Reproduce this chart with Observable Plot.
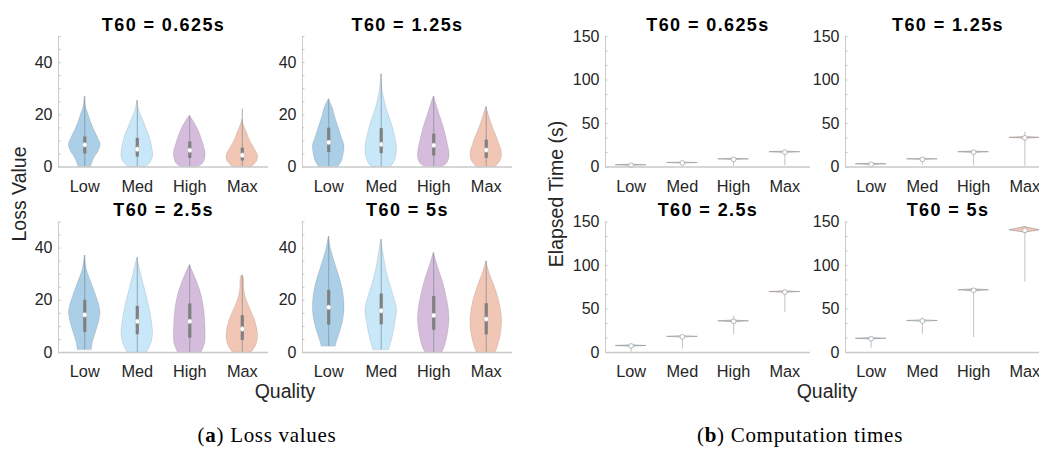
<!DOCTYPE html>
<html>
<head>
<meta charset="utf-8">
<script src="https://cdn.jsdelivr.net/npm/d3@7"></script>
<script src="https://cdn.jsdelivr.net/npm/@observablehq/plot@0.6"></script>
<style>
html, body { margin: 0; padding: 0; background: #fff; overflow: hidden; }
#wrap { position: relative; width: 1039px; height: 450px; overflow: hidden; font-family: "Liberation Sans", Arial, sans-serif; }
.panel { position: absolute; top: 0; }
.panel svg { max-width: none !important; display: block; }
.panel g[aria-label="text"] text { letter-spacing: 1.4px; }
.lab { position: absolute; font-size: 19.5px; line-height: 1; color: #262626; white-space: nowrap; }
.ylab { transform: translate(-50%, -50%) rotate(-90deg); }
.xlab { transform: translateX(-50%); }
.cap { position: absolute; font-family: "Liberation Serif", "Times New Roman", serif; font-size: 21px; letter-spacing: 0.7px; line-height: 1; color: #000; white-space: nowrap; transform: translateX(-50%); }
</style>
</head>
<body>
<div id="wrap">
  <div id="pa" class="panel" style="left:0px; width:520px"></div>
  <div id="pb" class="panel" style="left:520px; width:530px"></div>
  <div class="lab ylab" style="left:20px; top:194px">Loss Value</div>
  <div class="lab ylab" style="left:557px; top:194px">Elapsed Time (s)</div>
  <div class="lab xlab" style="left:285px; top:382px">Quality</div>
  <div class="lab xlab" style="left:827px; top:382px">Quality</div>
  <div class="cap" style="left:267px; top:425px">(<b>a</b>) Loss values</div>
  <div class="cap" style="left:800px; top:425px">(<b>b</b>) Computation times</div>
</div>
<script>
// ---------------- data ----------------
const t60Labels = ["0.625", "1.25", "2.5", "5"];
const qualities = ["Low", "Med", "High", "Max"];
const qualityColors = ["#abcfe7", "#c8e8f9", "#d5bcdc", "#f2c6b4"];
const lossTicks = [0, 20, 40];
const lossMinorTicks = [0, 5, 10, 15, 20, 25, 30, 35, 40, 45, 50];
const timeTicks = [0, 50, 100, 150];
const timeMinorTicks = [0, 16.7, 33.3, 50, 66.7, 83.3, 100, 116.7, 133.3, 150];

// violin outlines of the loss values: [loss, relative width], bottom to top, per quality
const lossViolins_0625 = [
  [[0, 0.38], [1, 0.45], [3.6, 0.63], [6.2, 0.9], [8.7, 1], [11.3, 0.83], [15, 0.54], [18, 0.35], [20.3, 0.23], [22, 0.12], [24, 0.05], [27, 0]],
  [[0, 0.6], [1.7, 0.85], [4.2, 1], [7.4, 0.95], [11.3, 0.8], [15, 0.56], [19, 0.3], [21.5, 0.12], [23.5, 0.05], [25.4, 0]],
  [[0, 0.55], [1.3, 0.85], [4.2, 1], [6.2, 0.98], [10, 0.8], [13.8, 0.57], [17.7, 0.22], [19.6, 0]],
  [[0, 0.6], [2.3, 0.95], [4.2, 1], [6.8, 0.8], [10, 0.5], [13.8, 0.25], [16, 0.1], [18.3, 0]]
];
const lossViolins_125 = [
  [[0, 0.6], [1.7, 0.8], [4.9, 0.95], [8.1, 1], [11.3, 0.83], [15.1, 0.63], [19, 0.42], [22.8, 0.25], [26, 0]],
  [[0, 0.55], [1, 0.75], [4.2, 0.96], [7.4, 1], [11.3, 0.89], [15.1, 0.74], [19, 0.53], [22.8, 0.32], [26.7, 0.17], [30, 0.07], [33, 0.02], [35.6, 0]],
  [[0, 0.55], [1.3, 0.85], [3.8, 1], [6.2, 0.98], [10, 0.85], [15.1, 0.64], [20.3, 0.36], [24, 0.17], [27, 0]],
  [[0, 0.6], [2.3, 0.91], [4.9, 1], [7.4, 0.91], [11.3, 0.68], [15.1, 0.42], [19, 0.21], [23, 0]]
];
const lossViolins_25 = [
  [[1, 0.45], [3.6, 0.51], [7.4, 0.7], [11.3, 0.89], [15.1, 1], [17.7, 0.94], [21.5, 0.74], [26.7, 0.43], [31.8, 0.13], [37.2, 0]],
  [[0, 0.6], [0.4, 0.65], [3.6, 0.9], [7.4, 1], [11.3, 0.94], [16.4, 0.8], [21.5, 0.6], [26.7, 0.38], [31.8, 0.17], [36.3, 0]],
  [[0, 0.75], [3.6, 0.98], [8.7, 1], [13.8, 0.96], [19, 0.85], [24.1, 0.64], [29.2, 0.32], [33.5, 0]],
  [[0, 0.6], [2.9, 0.9], [6.2, 1], [8.7, 0.96], [12.6, 0.79], [16.4, 0.53], [20.3, 0.26], [24.1, 0.13], [28, 0.11], [29.5, 0.04]]
];
const lossViolins_5 = [
  [[2.3, 0.45], [4.2, 0.53], [7.4, 0.7], [11.3, 0.89], [16.4, 1], [21.5, 0.96], [26.7, 0.79], [33, 0.47], [39.5, 0.15], [44.4, 0]],
  [[1, 0.5], [1.7, 0.53], [6.2, 0.74], [11.3, 0.89], [16.4, 1], [21.5, 0.8], [26.7, 0.53], [31.8, 0.32], [38.2, 0.13], [43.3, 0]],
  [[0, 0.55], [2.9, 0.74], [7.4, 0.91], [12.6, 1], [16.4, 0.96], [21.5, 0.81], [26.7, 0.6], [33, 0.26], [38.2, 0]],
  [[0, 0.6], [2.3, 0.74], [6.2, 0.91], [11.3, 1], [15.1, 0.96], [20.3, 0.8], [25.4, 0.53], [30.5, 0.21], [35, 0]]
];
// loss summaries per T60 (rows) and quality (columns)
const lossMedian = [[8.5, 6.8, 6.4, 4.5], [9.4, 8.7, 8.3, 6.5], [14.4, 11.9, 11.9, 9], [17.3, 16, 14.2, 12.8]];
const lossQ1 = [[5, 3.8, 3.3, 2.3], [5.5, 5.1, 4.2, 3.3], [7.7, 6.8, 5.5, 4.6], [10.5, 10.6, 8.5, 6.8]];
const lossQ3 = [[11.5, 11, 9.6, 7.2], [14.9, 14.7, 12.6, 10.3], [20, 17.7, 18.6, 14.1], [23.8, 22.4, 21.5, 18.7]];
const lossMin = [[0, 0, 0, 0], [0, 0, 0, 0], [1, 0, 0, 0], [2.3, 1, 0, 0]];
const lossMax = [[27, 25.4, 19.6, 22.2], [26, 35.6, 27, 23], [37.2, 36.3, 33.5, 29.5], [44.4, 43.3, 38.2, 35]];

// computation times (s) per T60 (rows) and quality (columns)
const timeMedian = [[2, 4.6, 8.8, 17], [3.1, 8.8, 17, 33.5], [7.5, 18, 35.8, 69.5], [15.8, 36.2, 71.5, 140.4]];
const timeMin = [[0.5, 3.5, 1, 1.5], [1, 2, 1.5, 1], [0.5, 4, 20.5, 46], [5, 21, 17.3, 81]];
const timeMax = [[2.5, 5.5, 9.5, 18], [4, 9.5, 18, 40], [8, 18.5, 41.6, 70.5], [16.5, 39.7, 72, 144]];
const timeShapeLo = [[1.3, 3.9, 8, 16.2], [2.3, 8, 16.2, 32.5], [6.7, 17.2, 34.8, 68.6], [15, 35.3, 70.3, 137.8]];
const timeShapeHi = [[2.6, 5.2, 9.5, 17.7], [3.8, 9.5, 17.8, 34.5], [8.2, 18.8, 36.8, 70.4], [16.6, 37, 72.6, 144.2]];

// ---------------- build tables ----------------
const HALF = 0.3;               // widest violin half-width, in category units
const xDomain = [0.5, 4.5];
const facetOf = k => ({fx: k % 2, fy: Math.floor(k / 2)});
const titles = t60Labels.map((t, k) => ({title: `T60 = ${t}s`, ...facetOf(k)}));

const lossOutline = [];
[lossViolins_0625, lossViolins_125, lossViolins_25, lossViolins_5].forEach((set, k) =>
  set.forEach((prof, q) => prof.forEach(([v, w]) =>
    lossOutline.push({...facetOf(k), q, cat: qualities[q], key: `${k}-${q}`, v, w}))));
const lossStats = [];
t60Labels.forEach((t, k) => qualities.forEach((c, q) => lossStats.push({
  ...facetOf(k), q, cat: c,
  med: lossMedian[k][q], q1: lossQ1[k][q], q3: lossQ3[k][q], lo: lossMin[k][q], hi: lossMax[k][q]
})));

const timeOutline = [];
const timeStats = [];
t60Labels.forEach((t, k) => qualities.forEach((c, q) => {
  const base = {...facetOf(k), q, cat: c, key: `${k}-${q}`};
  timeOutline.push({...base, v: timeShapeLo[k][q], w: 0});
  timeOutline.push({...base, v: timeMedian[k][q], w: 1});
  timeOutline.push({...base, v: timeShapeHi[k][q], w: 0});
  timeStats.push({...base, med: timeMedian[k][q], lo: timeMin[k][q], hi: timeMax[k][q]});
}));

// ---------------- common pieces ----------------
const xPos = d => d.q + 1;
const common = (yTicks, yMinor) => [
  Plot.ruleX([xDomain[0]], {stroke: "#cdcdcd", strokeWidth: 1}),
  Plot.axisY({ticks: yMinor, tickSize: 2.5, dx: 2.5, fill: "none", stroke: "#c4c4c4", facetAnchor: null, label: null}),
  Plot.axisY({ticks: yTicks, tickSize: 0, tickPadding: 6, fontSize: 16, fill: "#262626", facetAnchor: null, label: null}),
  Plot.axisX({ticks: [1, 2, 3, 4], tickFormat: i => qualities[i - 1], tickSize: 0, tickPadding: 13, fontSize: 16.3, fill: "#262626", facetAnchor: null, label: null}),
  Plot.text(titles, {fx: "fx", fy: "fy", text: "title", frameAnchor: "top", lineAnchor: "bottom", dy: -6, fontSize: 18, fontWeight: "bold", fill: "#000"})
];
const baseline = Plot.ruleY([0], {stroke: "#c9c9c9", strokeWidth: 1.6});
const style = {fontFamily: "'Liberation Sans', Arial, sans-serif", fontSize: "16px", color: "#262626", background: "transparent"};

const plotA = Plot.plot({
  width: 520, height: 410,
  marginLeft: 58, marginRight: 8, marginTop: 36, marginBottom: 58,
  fx: {domain: [0, 1], paddingInner: 0.139, paddingOuter: 0, axis: null, round: false},
  fy: {domain: [0, 1], paddingInner: 0.2965, paddingOuter: 0, axis: null, round: false},
  x: {domain: xDomain},
  y: {domain: [0, 50]},
  color: {domain: qualities, range: qualityColors},
  style,
  marks: [
    ...common(lossTicks, lossMinorTicks),
    Plot.areaX(lossOutline, {fx: "fx", fy: "fy", y: "v", x1: d => xPos(d) - d.w * HALF, x2: d => xPos(d) + d.w * HALF,
      z: "key", fill: "cat", stroke: "#000", strokeOpacity: 0.13, strokeWidth: 0.8, curve: "catmull-rom"}),
    Plot.ruleX(lossStats, {fx: "fx", fy: "fy", x: xPos, y1: "lo", y2: "hi", stroke: "#7f8a94", strokeOpacity: 0.7, strokeWidth: 1}),
    Plot.ruleX(lossStats, {fx: "fx", fy: "fy", x: xPos, y1: "q1", y2: "q3", stroke: "#808080", strokeWidth: 3.2}),
    Plot.dot(lossStats, {fx: "fx", fy: "fy", x: xPos, y: "med", r: 2.4, fill: "#fff", stroke: "#b0b0b0", strokeWidth: 0.5}),
    baseline
  ]
});

const plotB = Plot.plot({
  width: 530, height: 410,
  marginLeft: 85, marginRight: 0, marginTop: 36, marginBottom: 58,
  fx: {domain: [0, 1], paddingInner: 0.146, paddingOuter: 0, axis: null, round: false},
  fy: {domain: [0, 1], paddingInner: 0.2965, paddingOuter: 0, axis: null, round: false},
  x: {domain: xDomain},
  y: {domain: [0, 150]},
  color: {domain: qualities, range: qualityColors},
  style,
  marks: [
    ...common(timeTicks, timeMinorTicks),
    Plot.ruleX(timeStats, {fx: "fx", fy: "fy", x: xPos, y1: "lo", y2: "hi", stroke: "#c2c2c2", strokeWidth: 1}),
    Plot.areaX(timeOutline, {fx: "fx", fy: "fy", y: "v", x1: d => xPos(d) - d.w * HALF, x2: d => xPos(d) + d.w * HALF,
      z: "key", fill: "cat", stroke: "#8e8e8e", strokeOpacity: 0.7, strokeWidth: 0.8}),
    Plot.dot(timeStats, {fx: "fx", fy: "fy", x: xPos, y: "med", r: 2.4, fill: "#fff", stroke: "#a8a8a8", strokeWidth: 0.8}),
    baseline
  ]
});

document.getElementById("pa").appendChild(plotA);
document.getElementById("pb").appendChild(plotB);
</script>
</body>
</html>
